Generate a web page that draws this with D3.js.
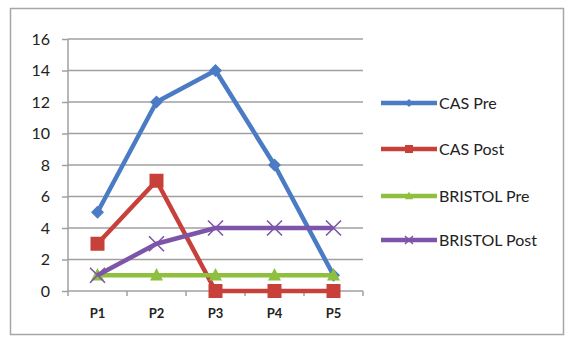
<!DOCTYPE html>
<html><head><meta charset="utf-8">
<script src="https://cdn.jsdelivr.net/npm/d3@7"></script>
<style>body{margin:0;background:#fff}svg{display:block}</style>
</head><body>
<script>
const categories = ["P1","P2","P3","P4","P5"];
const casPre = [5,12,14,8,1];
const casPost = [3,7,0,0,0];
const bristolPre = [1,1,1,1,1];
const bristolPost = [1,3,4,4,4];
const yTicks = [0,2,4,6,8,10,12,14,16];
const seriesNames = ["CAS Pre","CAS Post","BRISTOL Pre","BRISTOL Post"];
const seriesColors = ["#4a7bc4","#c8403a","#8fbf3f","#7d55a8"];
const seriesMarkers = ["diamond","square","triangle","cross"];
const seriesData = [casPre, casPost, bristolPre, bristolPost];

const W=566,H=337;
const svg=d3.select("body").append("svg").attr("width",W).attr("height",H);
svg.append("rect").attr("x",10.5).attr("y",8.5).attr("width",553).attr("height",326)
  .attr("fill","#fff").attr("stroke","#a6a6a6").attr("stroke-width",1.5);

const x=d3.scaleBand().domain(categories).range([68,363]);
const y=d3.scaleLinear().domain([0,16]).range([291,39]);
const font="Lato, 'Open Sans', sans-serif";

// gridlines
svg.append("g").selectAll("line").data(yTicks.filter(d=>d>0)).join("line")
  .attr("x1",68).attr("x2",363).attr("y1",d=>y(d)).attr("y2",d=>y(d))
  .attr("stroke","#a0a0a0").attr("stroke-width",1.5);

// y axis
const ya=svg.append("g").attr("transform","translate(68,0)")
  .call(d3.axisLeft(y).tickValues(yTicks).tickSize(6).tickPadding(12));
ya.select(".domain").attr("stroke","#a0a0a0").attr("stroke-width",1.5).attr("d","M0,39V291");
ya.selectAll(".tick line").attr("stroke","#a0a0a0").attr("stroke-width",1.5);
ya.selectAll("text").attr("font-family",font).attr("font-size",16).attr("fill","#222");

// x axis
const xa=svg.append("g").attr("transform","translate(0,291)")
  .call(d3.axisBottom(x).tickSize(0).tickPadding(18));
xa.select(".domain").attr("stroke","#a0a0a0").attr("stroke-width",1.5).attr("d","M68,0H363");
xa.selectAll("text").attr("font-family",font).attr("font-size",13).attr("font-weight","bold").attr("fill","#222");
svg.append("g").selectAll("line").data(d3.range(categories.length+1)).join("line")
  .attr("x1",i=>68+i*x.step()).attr("x2",i=>68+i*x.step()).attr("y1",291).attr("y2",296)
  .attr("stroke","#a0a0a0").attr("stroke-width",1.5);

function marker(g,type,color,s){
  if(type==="diamond") g.append("path").attr("d",`M0,${-s}L${s},0L0,${s}L${-s},0Z`).attr("fill",color);
  else if(type==="square") g.append("rect").attr("x",-s).attr("y",-s).attr("width",2*s).attr("height",2*s).attr("fill",color);
  else if(type==="triangle") g.append("path").attr("d",`M0,${-s*1.1}L${s},${s*0.8}L${-s},${s*0.8}Z`).attr("fill",color);
  else if(type==="cross") g.append("path").attr("d",`M${-s},${-s}L${s},${s}M${-s},${s}L${s},${-s}`).attr("stroke",color).attr("stroke-width",1.6).attr("fill","none");
}
const sizes={diamond:6.5,square:7,triangle:6.5,cross:7.5};
const line=d3.line().x((d,i)=>x(categories[i])+x.bandwidth()/2).y(d=>y(d));

seriesData.forEach((data,si)=>{
  const c=seriesColors[si];
  svg.append("path").attr("d",line(data)).attr("fill","none").attr("stroke",c)
    .attr("stroke-width",4.5).attr("stroke-linejoin","round");
  data.forEach((v,i)=>{
    const g=svg.append("g").attr("transform",`translate(${x(categories[i])+x.bandwidth()/2},${y(v)})`);
    marker(g,seriesMarkers[si],c,sizes[seriesMarkers[si]]);
  });
});

// legend
const legY=[103,149,196,240];
seriesNames.forEach((n,i)=>{
  const c=seriesColors[i];
  const g=svg.append("g").attr("transform",`translate(0,${legY[i]})`);
  g.append("line").attr("x1",381).attr("x2",437).attr("y1",0).attr("y2",0).attr("stroke",c).attr("stroke-width",4.5);
  const m=g.append("g").attr("transform","translate(409,0)");
  marker(m,seriesMarkers[i],c,4);
  g.append("text").attr("x",439).attr("y",0).attr("dy","0.35em").attr("font-family",font)
    .attr("font-size",16).attr("fill","#222").text(n);
});
</script>
</body></html>
